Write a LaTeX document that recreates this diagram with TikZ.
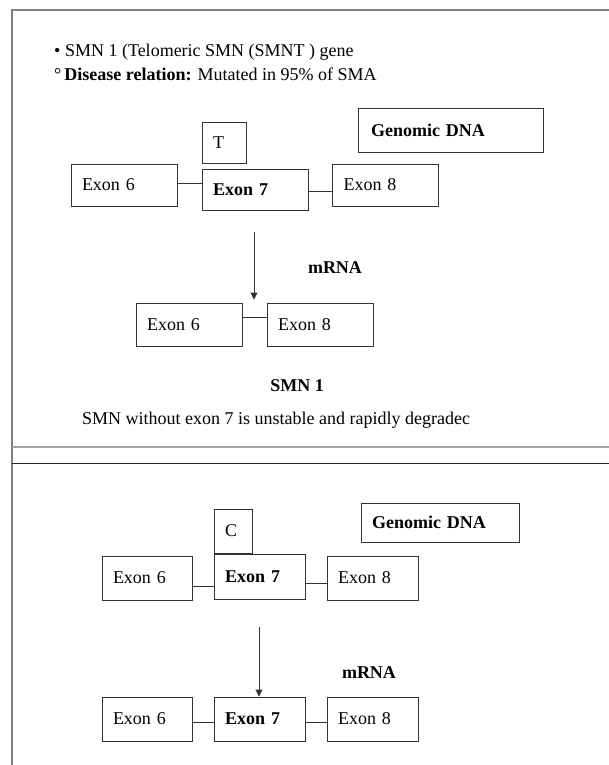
\documentclass[tikz,border=0pt]{standalone}
\usepackage{fontspec}
\setmainfont{Liberation Serif}
\usepackage{tikz}
\usetikzlibrary{arrows.meta, positioning, calc}
\definecolor{framegray}{HTML}{808080}
\definecolor{rulegray}{HTML}{A0A0A0}
\definecolor{boxline}{HTML}{333333}

\begin{document}
\begin{tikzpicture}[
    x=1pt, y=-1pt,
    font=\fontsize{18}{20}\selectfont,
    genebox/.style={draw=boxline, line width=0.9pt, rectangle, inner xsep=11pt,
                    inner ysep=0pt, align=left},
    exonbox/.style={genebox, text width=84pt, minimum height=42pt},
    smallexon/.style={genebox, text width=68pt, minimum height=44pt},
    basebox/.style={genebox, text width=22pt},
    link/.style={draw=boxline, line width=0.9pt},
    splice/.style={draw=boxline, line width=0.9pt, -{Triangle[length=7pt,width=7pt]}}
]
\useasboundingbox (0,0) rectangle (609,765);

% frame of the slide
\draw[framegray, line width=1.6pt] (12,765) -- (12,10) -- (609,10);
\draw[rulegray, line width=1.8pt] (12,447) -- (609,447);
\draw[black!85, line width=1pt] (12,463) -- (609,463);

% heading
\node[anchor=west, inner sep=0pt] (head) at (54,52) {• SMN 1 (Telomeric SMN (SMNT ) gene};
\node[anchor=west, inner sep=0pt] (rel) at (54,74) {°\,\textbf{Disease relation:} Mutated in 95\% of SMA};

% SMN 1 : genomic DNA
\node[genebox, text width=159pt, minimum height=44pt, inner xsep=13pt] (gtop) at (450.5,130) {\textbf{Genomic DNA}};
\node[exonbox] (e6) at (124,185) {Exon 6};
\node[exonbox, minimum height=41pt] (e7) at (255,189.5) {\textbf{Exon 7}};
\node[exonbox] (e8) at (385.5,185) {Exon 8};
\node[basebox, minimum height=41pt, above=5pt of e7.north west, anchor=south west] (tbase) {T};
\draw[link] ([yshift=2pt]e6.east) -- ([yshift=2pt]e6.east -| e7.west);
\draw[link] ([yshift=-1.5pt]e7.east) -- ([yshift=-1.5pt]e7.east -| e8.west);

% SMN 1 : mRNA
\coordinate (s1) at (254,232);
\node[font=\fontsize{18}{20}\selectfont\bfseries] (mtop) at (335,268) {mRNA};
\node[exonbox, minimum height=43pt] (m6) at (189,324.5) {Exon 6};
\node[exonbox, minimum height=43pt] (m8) at (320,324.5) {Exon 8};
\draw[link] ([yshift=7.5pt]m6.east) -- ([yshift=7.5pt]m6.east -| m8.west);
\draw[splice] (s1) -- ($(s1 |- m6.north)+(0,-3)$);

\node[font=\fontsize{18}{20}\selectfont\bfseries] (smn) at (297,386) {SMN 1};
\node[anchor=west, inner sep=0pt] (note) at (82,420) {SMN without exon 7 is unstable and rapidly degradec};

% SMN 2 : genomic DNA
\node[genebox, text width=136pt, minimum height=39pt] (gbot) at (440,522.5) {\textbf{Genomic DNA}};
\node[smallexon] (n6) at (147,578) {Exon 6};
\node[smallexon, text width=69pt, minimum height=45pt] (n7) at (259.5,576.5) {\textbf{Exon 7}};
\node[smallexon, text width=69pt] (n8) at (372.5,578) {Exon 8};
\node[basebox, text width=16pt, minimum height=44pt, above=0pt of n7.north west, anchor=south west] (cbase) {C};
\draw[link] ([yshift=-8pt]n6.east) -- ([yshift=-8pt]n6.east -| n7.west);
\draw[link] ([yshift=-6.5pt]n7.east) -- ([yshift=-6.5pt]n7.east -| n8.west);

% SMN 2 : mRNA
\coordinate (s2) at (259,627);
\node[font=\fontsize{18}{20}\selectfont\bfseries] (mbot) at (369,673) {mRNA};
\node[smallexon] (r6) at (147,719) {Exon 6};
\node[smallexon, text width=69pt] (r7) at (259.5,719) {\textbf{Exon 7}};
\node[smallexon, text width=69pt] (r8) at (372.5,719) {Exon 8};
\draw[link] ([yshift=-3pt]r6.east) -- ([yshift=-3pt]r6.east -| r7.west);
\draw[link] ([yshift=-3pt]r7.east) -- ([yshift=-3pt]r7.east -| r8.west);
\draw[splice] (s2) -- (s2 |- r7.north);

\end{tikzpicture}
\end{document}
